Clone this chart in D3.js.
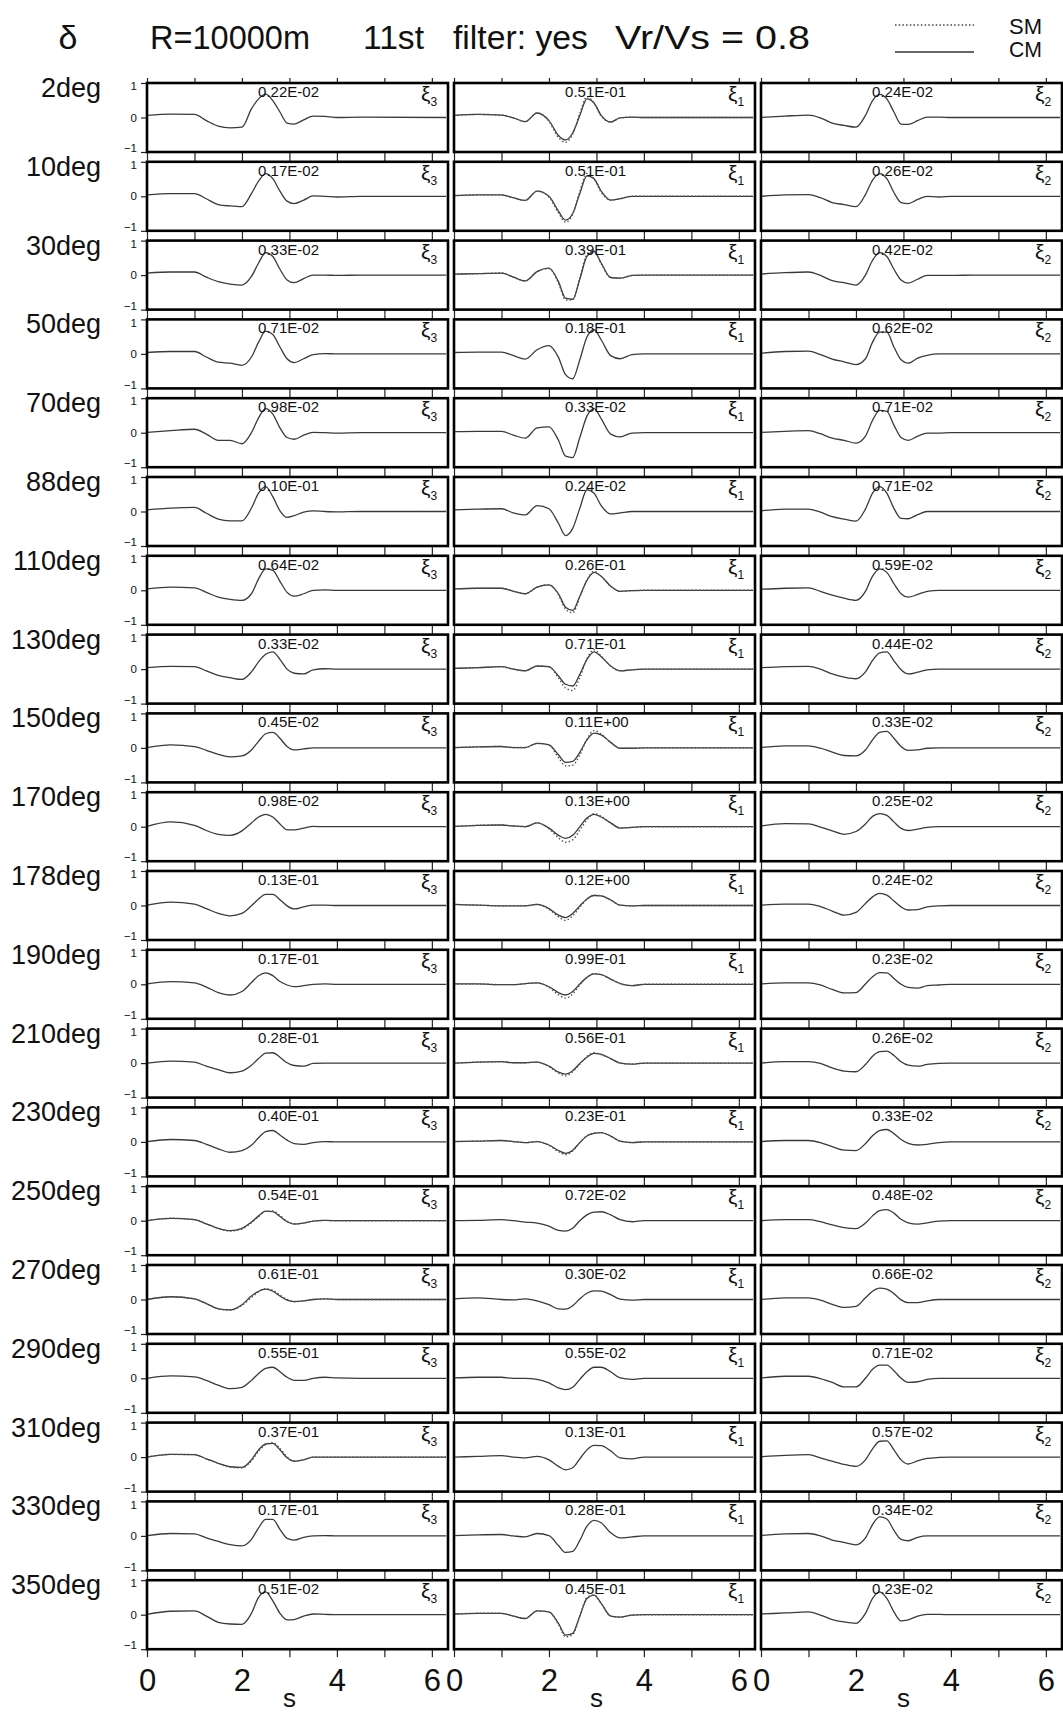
<!DOCTYPE html>
<html>
<head>
<meta charset="utf-8">
<script src="https://cdn.jsdelivr.net/npm/d3@7"></script>
<style>
  html, body { margin: 0; padding: 0; background: #fff; }
  svg { display: block; font-family: "Liberation Sans", Arial, sans-serif; }
</style>
</head>
<body>
<div id="chart"></div>
<script>
// ---------------- DATA ----------------
const angles = ["2deg","10deg","30deg","50deg","70deg","88deg","110deg","130deg","150deg","170deg",
                "178deg","190deg","210deg","230deg","250deg","270deg","290deg","310deg","330deg","350deg"];
const componentSub = ["3", "1", "2"];           // ξ3, ξ1, ξ2 columns
const time = [0, 0.5, 1, 1.25, 1.5, 1.75, 2, 2.2, 2.35, 2.5, 2.65, 2.8, 2.95, 3.1, 3.3, 3.5, 3.75, 4, 4.5, 6.3];
const xTicks = [0, 1, 2, 3, 4, 5, 6];
const xTickLabels = [0, 2, 4, 6];
const yTicks = [1, 0, -1];

// normalised traces, CM (solid)
const cmXi3 = [
 [0.06,0.10,0.09,-0.09,-0.25,-0.30,-0.28,0.25,0.54,0.68,0.49,0.16,-0.16,-0.19,-0.07,0.04,0.03,0,0.01,0],
 [0.04,0.08,0.08,-0.07,-0.24,-0.28,-0.30,0.08,0.44,0.66,0.51,0.15,-0.14,-0.21,-0.11,0.01,0,-0.02,0,0],
 [0.06,0.09,0.09,-0.06,-0.19,-0.26,-0.29,-0.04,0.35,0.65,0.54,0.17,-0.14,-0.22,-0.10,0,0,-0.01,0,0],
 [0.04,0.07,0.07,-0.09,-0.24,-0.27,-0.33,-0.09,0.34,0.66,0.56,0.20,-0.14,-0.25,-0.14,-0.02,0.01,0,0,0],
 [0.01,0.06,0.10,-0.04,-0.22,-0.22,-0.32,0,0.43,0.70,0.54,0.14,-0.14,-0.19,-0.07,0.01,0,-0.01,0,0],
 [0.05,0.10,0.12,-0.05,-0.22,-0.27,-0.27,0.10,0.53,0.72,0.43,0.02,-0.17,-0.12,-0.02,0.02,0,-0.01,0,0],
 [0.04,0.09,0.07,-0.06,-0.20,-0.26,-0.29,-0.10,0.33,0.62,0.58,0.26,-0.06,-0.17,-0.10,0,0.01,0,0,0],
 [0.04,0.08,0.07,-0.05,-0.18,-0.25,-0.30,-0.08,0.21,0.43,0.50,0.28,0,-0.12,-0.14,-0.02,0.01,0,0,0],
 [0.01,0.09,0.04,-0.07,-0.19,-0.26,-0.23,-0.06,0.19,0.41,0.45,0.28,0.04,-0.06,-0.03,0,0,0,0,0],
 [0.01,0.14,0.04,-0.11,-0.22,-0.25,-0.12,0.11,0.28,0.36,0.28,0.08,-0.09,-0.09,-0.04,0.01,0,0,0,0],
 [0.01,0.10,0.04,-0.09,-0.23,-0.30,-0.23,-0.01,0.19,0.32,0.32,0.17,-0.01,-0.10,-0.04,0.01,0.01,0,0,0],
 [0.01,0.08,0.04,-0.08,-0.24,-0.31,-0.21,0.05,0.25,0.33,0.25,0.08,-0.02,-0.07,-0.04,0,0.01,0,0,0],
 [0,0.06,0.03,-0.09,-0.19,-0.28,-0.23,-0.06,0.13,0.29,0.30,0.17,0.01,-0.07,-0.09,-0.01,0,0,0,0],
 [0.01,0.07,0.04,-0.07,-0.20,-0.30,-0.25,-0.10,0.12,0.30,0.33,0.20,0.05,-0.05,-0.07,-0.02,0.01,0,0,0],
 [0,0.07,0.03,-0.09,-0.22,-0.29,-0.22,-0.04,0.14,0.28,0.26,0.12,-0.03,-0.10,-0.07,-0.01,0.01,0,0,0],
 [0,0.08,0.02,-0.12,-0.27,-0.30,-0.15,0.10,0.24,0.30,0.24,0.10,-0.02,-0.06,-0.04,0,0.02,0,0,0],
 [0,0.07,0.04,-0.06,-0.20,-0.30,-0.26,-0.06,0.14,0.29,0.32,0.19,0.03,-0.06,-0.06,0,0.03,0.01,0,0],
 [0,0.08,0.07,-0.05,-0.18,-0.28,-0.30,-0.08,0.21,0.38,0.40,0.21,-0.02,-0.12,-0.08,0,0,0,0,0],
 [0.01,0.07,0.06,-0.06,-0.16,-0.25,-0.29,-0.10,0.23,0.48,0.48,0.19,-0.07,-0.12,-0.04,0,0.01,0,0,0],
 [0.01,0.10,0.11,-0.04,-0.22,-0.27,-0.28,0.04,0.50,0.66,0.40,0.04,-0.15,-0.14,-0.04,0.02,0.01,0,0,0]
];
const cmXi1 = [
 [0.06,0.09,0.07,-0.01,-0.12,0.13,-0.09,-0.52,-0.65,-0.45,0.06,0.54,0.42,0.06,-0.13,-0.01,0.01,0,0,0],
 [0.02,0.04,0.04,-0.04,-0.12,0.15,0,-0.43,-0.69,-0.50,0.08,0.59,0.51,0.15,-0.11,-0.07,0,0,0,0],
 [0.03,0.04,0.06,-0.06,-0.17,0.10,0.20,-0.19,-0.67,-0.70,-0.12,0.54,0.68,0.35,-0.07,-0.09,-0.01,0,0,0],
 [0.04,0.05,0.05,-0.05,-0.15,0.12,0.24,-0.10,-0.60,-0.72,-0.17,0.49,0.70,0.41,-0.05,-0.14,-0.02,0,0,0],
 [0.03,0.04,0.04,-0.07,-0.16,0.14,0.17,-0.22,-0.68,-0.72,-0.14,0.48,0.70,0.41,-0.04,-0.12,-0.01,0,0,0],
 [0.05,0.07,0.08,-0.04,-0.10,0.17,0.08,-0.34,-0.70,-0.49,0.09,0.63,0.53,0.17,-0.07,-0.04,0,0,0,0],
 [0.04,0.06,0.06,-0.03,-0.10,0.09,0.16,-0.10,-0.49,-0.58,-0.17,0.29,0.52,0.41,0.12,-0.03,-0.01,0,0,0],
 [0.02,0.04,0.07,0,-0.05,0.09,0.07,-0.20,-0.44,-0.49,-0.15,0.28,0.50,0.36,0.09,-0.05,-0.02,0,0,0],
 [0.01,0.03,0.04,0.01,0.01,0.13,0.09,-0.20,-0.42,-0.39,-0.13,0.23,0.43,0.38,0.16,-0.01,-0.01,0,0,0],
 [0.01,0.04,0.05,0.02,0,0.11,-0.04,-0.25,-0.34,-0.25,0,0.25,0.36,0.28,0.11,-0.04,-0.02,0,0,0],
 [0.03,0.01,-0.01,-0.01,-0.01,0.03,-0.09,-0.28,-0.35,-0.23,-0.01,0.19,0.29,0.28,0.16,0.01,-0.01,0,0,0],
 [0.01,0.01,-0.01,-0.01,0.02,0.04,-0.07,-0.24,-0.31,-0.21,0.01,0.20,0.30,0.28,0.15,0.02,-0.04,0,0,0],
 [0,0.03,0.04,0.01,0.01,0.03,-0.09,-0.26,-0.32,-0.22,-0.01,0.17,0.28,0.25,0.13,0,-0.03,0,0,0],
 [0.01,0.02,0.04,0.01,-0.02,0.01,-0.09,-0.25,-0.33,-0.24,-0.02,0.17,0.25,0.27,0.17,0.02,-0.02,0,0,0],
 [0,0.01,0.03,0,-0.04,-0.07,-0.16,-0.28,-0.30,-0.22,0,0.17,0.25,0.26,0.17,0.03,-0.03,0,0,0],
 [0.02,0.05,0,-0.01,0.02,-0.04,-0.15,-0.27,-0.28,-0.18,0.02,0.18,0.25,0.24,0.14,0.01,-0.02,0,0,0],
 [0.01,0.03,0.03,0,0,-0.03,-0.13,-0.28,-0.33,-0.26,-0.03,0.19,0.32,0.32,0.19,0.01,-0.03,0,0,0],
 [0,0.02,0.04,0,-0.02,0.02,-0.08,-0.27,-0.37,-0.31,-0.05,0.21,0.34,0.33,0.18,-0.02,-0.05,0,0,0],
 [0.01,0.03,0.04,0,-0.03,0.07,0.01,-0.28,-0.48,-0.45,-0.13,0.28,0.45,0.38,0.09,-0.06,-0.03,0,0,0],
 [0.02,0.04,0.04,-0.04,-0.11,0.11,0.08,-0.25,-0.59,-0.54,-0.04,0.47,0.57,0.33,-0.04,-0.07,-0.01,0,0,0]
];
const cmXi2 = [
 [0,0.04,0.07,-0.01,-0.16,-0.23,-0.28,0.06,0.49,0.67,0.54,0.16,-0.19,-0.20,-0.09,0.01,0.01,0,0,0],
 [0,0.04,0.05,-0.04,-0.18,-0.24,-0.30,0.05,0.47,0.66,0.51,0.11,-0.18,-0.21,-0.09,0,-0.02,0,0,0],
 [0.03,0.07,0.09,-0.01,-0.16,-0.22,-0.29,0,0.43,0.65,0.54,0.17,-0.14,-0.23,-0.12,-0.01,-0.01,-0.01,0,0],
 [0.02,0.07,0.08,-0.02,-0.15,-0.23,-0.31,-0.14,0.34,0.63,0.63,0.20,-0.17,-0.27,-0.12,-0.04,0,0,0,0],
 [0.01,0.04,0.06,-0.03,-0.16,-0.22,-0.30,-0.10,0.36,0.65,0.62,0.22,-0.14,-0.22,-0.10,-0.01,-0.01,0,0,0],
 [0.02,0.07,0.07,-0.02,-0.15,-0.22,-0.28,0.07,0.53,0.72,0.53,0.09,-0.20,-0.21,-0.09,0,0,0,0,0],
 [0.03,0.06,0.07,-0.03,-0.14,-0.23,-0.29,-0.03,0.41,0.62,0.52,0.19,-0.10,-0.20,-0.12,-0.03,0,0,0,0],
 [0.04,0.07,0.08,0,-0.14,-0.23,-0.28,-0.08,0.25,0.47,0.50,0.24,-0.02,-0.14,-0.09,-0.02,0,0,0,0],
 [0.01,0.06,0.06,-0.01,-0.12,-0.22,-0.23,-0.06,0.23,0.45,0.48,0.28,0.04,-0.07,-0.06,-0.01,0,0,0,0],
 [0.02,0.09,0.08,-0.01,-0.12,-0.22,-0.14,0.08,0.30,0.38,0.33,0.14,-0.05,-0.11,-0.07,-0.02,0,0,0,0],
 [0.01,0.04,0.04,-0.03,-0.16,-0.28,-0.20,0.06,0.25,0.35,0.30,0.13,-0.04,-0.13,-0.12,-0.04,-0.01,0,0,0],
 [0.01,0.04,0.04,-0.02,-0.15,-0.25,-0.24,0.01,0.22,0.34,0.33,0.17,0,-0.09,-0.11,-0.04,-0.02,0,0,0],
 [0,0.04,0.04,-0.01,-0.14,-0.23,-0.25,-0.04,0.20,0.33,0.35,0.22,0.04,-0.06,-0.09,-0.04,-0.01,0,0,0],
 [0.01,0.04,0.04,-0.02,-0.14,-0.24,-0.25,-0.05,0.18,0.33,0.36,0.24,0.07,-0.04,-0.09,-0.07,-0.02,0,0,0],
 [0,0.03,0.03,-0.03,-0.12,-0.20,-0.23,-0.07,0.14,0.29,0.32,0.22,0.04,-0.06,-0.10,-0.06,-0.01,0,0,0],
 [0,0.05,0.05,-0.02,-0.14,-0.23,-0.20,0.05,0.24,0.33,0.30,0.17,-0.01,-0.09,-0.09,-0.04,0,0,0,0],
 [0.01,0.06,0.06,-0.01,-0.12,-0.25,-0.25,0,0.26,0.38,0.38,0.22,0,-0.12,-0.10,-0.03,0,0,0,0],
 [0.01,0.05,0.07,-0.02,-0.12,-0.21,-0.27,-0.08,0.24,0.46,0.47,0.21,-0.08,-0.20,-0.11,-0.04,-0.01,0,0,0],
 [0.01,0.06,0.07,0,-0.12,-0.19,-0.26,-0.06,0.33,0.55,0.49,0.16,-0.10,-0.14,-0.04,0,0,0,0,0],
 [0.02,0.05,0.08,-0.01,-0.14,-0.21,-0.25,0.04,0.47,0.66,0.47,0.08,-0.18,-0.15,-0.04,0.01,0.01,0,0,0]
];

// SM (dotted): null where it lies on the CM trace
const smXi3 = [null,null,null,null,null,null,null,null,null,null,null,null,null,null,
 [0,0.07,0.03,-0.09,-0.22,-0.30,-0.24,-0.06,0.12,0.27,0.28,0.15,-0.01,-0.09,-0.07,-0.01,0.01,0,0,0],
 [0,0.08,0.02,-0.12,-0.27,-0.31,-0.17,0.06,0.22,0.31,0.27,0.13,0,-0.06,-0.04,0,0.02,0,0,0],
 null,
 [0,0.08,0.07,-0.05,-0.18,-0.29,-0.31,-0.11,0.17,0.36,0.42,0.25,0.01,-0.11,-0.08,0,0,0,0,0],
 null,null];
const smXi1 = [
 [0.06,0.09,0.07,-0.01,-0.12,0.13,-0.11,-0.58,-0.72,-0.48,0.12,0.60,0.42,0.04,-0.13,-0.01,0.01,0,0,0],
 [0.02,0.04,0.04,-0.04,-0.12,0.15,-0.02,-0.48,-0.75,-0.52,0.14,0.66,0.50,0.12,-0.11,-0.07,0,0,0,0],
 [0.03,0.04,0.06,-0.06,-0.17,0.10,0.19,-0.23,-0.72,-0.72,-0.08,0.60,0.70,0.33,-0.07,-0.09,-0.01,0,0,0],
 null,null,null,
 [0.04,0.06,0.06,-0.03,-0.10,0.09,0.16,-0.13,-0.55,-0.65,-0.20,0.30,0.55,0.40,0.12,-0.03,-0.01,0,0,0],
 [0.02,0.04,0.07,0,-0.05,0.09,0.06,-0.25,-0.55,-0.62,-0.25,0.30,0.56,0.38,0.09,-0.05,-0.02,0,0,0],
 [0.01,0.03,0.04,0.01,0.01,0.13,0.08,-0.28,-0.52,-0.50,-0.20,0.25,0.50,0.40,0.16,-0.01,-0.01,0,0,0],
 [0.01,0.04,0.05,0.02,0,0.11,-0.06,-0.32,-0.45,-0.38,-0.10,0.20,0.38,0.30,0.11,-0.04,-0.02,0,0,0],
 [0.03,0.01,-0.01,-0.01,-0.01,0.03,-0.11,-0.33,-0.43,-0.30,-0.05,0.18,0.30,0.28,0.16,0.01,-0.01,0,0,0],
 [0.01,0.01,-0.01,-0.01,0.02,0.04,-0.09,-0.30,-0.40,-0.28,-0.02,0.20,0.31,0.28,0.15,0.02,-0.04,0,0,0],
 [0,0.03,0.04,0.01,0.01,0.03,-0.10,-0.29,-0.37,-0.25,-0.03,0.19,0.30,0.25,0.13,0,-0.03,0,0,0],
 [0.01,0.02,0.04,0.01,-0.02,0.01,-0.10,-0.28,-0.37,-0.26,-0.02,0.18,0.26,0.27,0.17,0.02,-0.02,0,0,0],
 null,null,null,null,null,
 [0.02,0.04,0.04,-0.04,-0.11,0.11,0.08,-0.28,-0.64,-0.58,-0.04,0.50,0.57,0.33,-0.04,-0.07,-0.01,0,0,0]
];
const smXi2 = [null,null,null,null,null,null,null,null,null,null,null,null,null,null,null,null,null,null,null,null];

const peakXi3 = ["0.22E-02","0.17E-02","0.33E-02","0.71E-02","0.98E-02","0.10E-01","0.64E-02","0.33E-02","0.45E-02","0.98E-02",
                 "0.13E-01","0.17E-01","0.28E-01","0.40E-01","0.54E-01","0.61E-01","0.55E-01","0.37E-01","0.17E-01","0.51E-02"];
const peakXi1 = ["0.51E-01","0.51E-01","0.39E-01","0.18E-01","0.33E-02","0.24E-02","0.26E-01","0.71E-01","0.11E+00","0.13E+00",
                 "0.12E+00","0.99E-01","0.56E-01","0.23E-01","0.72E-02","0.30E-02","0.55E-02","0.13E-01","0.28E-01","0.45E-01"];
const peakXi2 = ["0.24E-02","0.26E-02","0.42E-02","0.62E-02","0.71E-02","0.71E-02","0.59E-02","0.44E-02","0.33E-02","0.25E-02",
                 "0.24E-02","0.23E-02","0.26E-02","0.33E-02","0.48E-02","0.66E-02","0.71E-02","0.57E-02","0.34E-02","0.23E-02"];

const headerItems = ["R=10000m", "11st", "filter: yes", "Vr/Vs = 0.8"];
const legendLabels = ["SM", "CM"];

// ---------------- LAYOUT ----------------
const W = 1063, H = 1716;
const colLeft = [147, 454, 761];
const panelW = 301, panelH = 69, top0 = 83, pitch = 78.8;
const xMax = 6.34;

const cols = [
  {cm: cmXi3, sm: smXi3, peaks: peakXi3, sub: componentSub[0]},
  {cm: cmXi1, sm: smXi1, peaks: peakXi1, sub: componentSub[1]},
  {cm: cmXi2, sm: smXi2, peaks: peakXi2, sub: componentSub[2]}
];

const svg = d3.select("#chart").append("svg").attr("width", W).attr("height", H);
svg.append("rect").attr("width", W).attr("height", H).attr("fill", "#fff");

// header
const hdr = svg.append("g").attr("font-size", 34).attr("fill", "#111");
hdr.append("text").attr("x", 68).attr("y", 49).attr("text-anchor", "middle").text("δ");
const hdrX = [150, 363, 453, 615], hdrW = [160, 61, 135, 195];
headerItems.forEach((t, i) => {
  hdr.append("text").attr("x", hdrX[i]).attr("y", 49)
    .attr("textLength", hdrW[i]).attr("lengthAdjust", "spacingAndGlyphs").text(t);
});
// legend
svg.append("line").attr("x1", 895).attr("x2", 974).attr("y1", 25).attr("y2", 25)
  .attr("stroke", "#444").attr("stroke-width", 1.3).attr("stroke-dasharray", "1.5,2.2");
svg.append("line").attr("x1", 895).attr("x2", 974).attr("y1", 52).attr("y2", 52)
  .attr("stroke", "#333").attr("stroke-width", 1.3);
legendLabels.forEach((t, i) => {
  svg.append("text").attr("x", 1009).attr("y", 34 + i * 23).attr("font-size", 22)
    .attr("textLength", 33).attr("lengthAdjust", "spacingAndGlyphs").attr("fill", "#111").text(t);
});

const line = (xs, ys) => d3.line()
  .x((d, i) => xs(time[i]))
  .y(d => ys(d))
  .curve(d3.curveMonotoneX);

angles.forEach((ang, r) => {
  const top = top0 + r * pitch;
  const ys = d3.scaleLinear().domain([-1, 1]).range([top + panelH, top]);

  // row label
  svg.append("text").attr("x", 101).attr("y", top + 14).attr("text-anchor", "end")
    .attr("font-size", 27).attr("fill", "#111").text(ang);

  cols.forEach((c, ci) => {
    const x0 = colLeft[ci];
    const xs = d3.scaleLinear().domain([0, xMax]).range([x0, x0 + panelW]);
    const g = svg.append("g");

    // x ticks top & bottom (outward)
    const axTop = d3.axisTop(xs).tickValues(xTicks).tickSize(5).tickFormat("");
    const axBot = d3.axisBottom(xs).tickValues(xTicks).tickSize(r === angles.length - 1 ? 8 : 5).tickFormat("");
    const gt = g.append("g").attr("transform", `translate(0,${top})`).call(axTop);
    const gb = g.append("g").attr("transform", `translate(0,${top + panelH})`).call(axBot);
    [gt, gb].forEach(a => { a.select(".domain").remove(); a.selectAll("line").attr("stroke", "#222").attr("stroke-width", 1.2); });

    if (ci === 0) {
      const ay = d3.axisLeft(ys).tickValues(yTicks).tickSize(6).tickPadding(4).tickFormat(d3.format("d"));
      const ga = g.append("g").attr("transform", `translate(${x0},0)`).call(ay);
      ga.select(".domain").remove();
      ga.selectAll("line").attr("stroke", "#222").attr("stroke-width", 1.2);
      ga.selectAll("text").attr("font-size", 11.5).attr("fill", "#111")
        .attr("font-family", "Liberation Sans, Arial, sans-serif")
        .attr("transform", d => d === 1 ? "translate(0,3)" : (d === -1 ? "translate(0,-4)" : null));
    }
    if (r === angles.length - 1) {
      const ab = d3.axisBottom(xs).tickValues(xTickLabels).tickSize(0).tickPadding(20).tickFormat(d3.format("d"));
      const gl = g.append("g").attr("transform", `translate(0,${top + panelH})`).call(ab);
      gl.select(".domain").remove();
      gl.selectAll("text").attr("font-size", 31).attr("fill", "#111")
        .attr("font-family", "Liberation Sans, Arial, sans-serif");
      g.append("text").attr("x", xs(3)).attr("y", top + panelH + 58).attr("text-anchor", "middle")
        .attr("font-size", 26).attr("fill", "#111").text("s");
    }

    // traces
    g.append("path").datum(c.cm[r]).attr("d", line(xs, ys)).attr("fill", "none")
      .attr("stroke", "#3a3a3a").attr("stroke-width", 1.3);
    if (c.sm[r]) {
      g.append("path").datum(c.sm[r]).attr("d", line(xs, ys)).attr("fill", "none")
        .attr("stroke", "#555").attr("stroke-width", 1.4).attr("stroke-dasharray", "1.5,2.2");
    }

    // frame
    g.append("rect").attr("x", x0).attr("y", top).attr("width", panelW).attr("height", panelH)
      .attr("fill", "none").attr("stroke", "#000").attr("stroke-width", 2.6);

    // peak amplitude
    g.append("text").attr("x", xs(2.34)).attr("y", top + 14).attr("font-size", 15)
      .attr("fill", "#111").text(c.peaks[r]);
    // component label
    const lab = g.append("text").attr("x", x0 + panelW - 27).attr("y", top + 18).attr("fill", "#111");
    lab.append("tspan").attr("font-size", 21).text("ξ");
    lab.append("tspan").attr("font-size", 12).attr("dy", 5).text(c.sub);
  });
});
</script>
</body>
</html>
